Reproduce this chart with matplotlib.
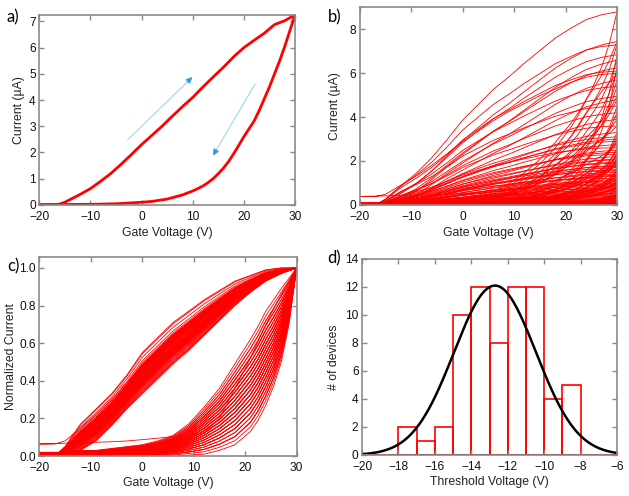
import numpy as np
import matplotlib
matplotlib.use("Agg")
import matplotlib.pyplot as plt

plt.rcParams['font.family'] = ['Liberation Sans', 'DejaVu Sans']

# ---- panel a: single device hysteresis loop ----
a_up_v = [-20, -17, -16, -15, -14, -13, -12, -10, -8, -6, -4, -2, 0, 2, 4, 6, 8, 10, 12, 14, 16, 18, 20,
          22, 24, 26, 28, 30]
a_up_i = [0, 0, 0.03, 0.1, 0.2, 0.3, 0.4, 0.62, 0.9, 1.2, 1.55, 1.92, 2.3, 2.65, 3.0, 3.38, 3.75, 4.1, 4.5,
          4.88, 5.25, 5.65, 6.0, 6.28, 6.55, 6.88, 7.03, 7.25]
a_dn_v = [30, 29, 28, 27, 26, 25, 24, 23, 22, 21, 20, 19, 18, 17, 16, 15, 14, 13, 12, 11, 10, 8, 5, 2, 0,
          -5, -10, -20]
a_dn_i = [7.25, 6.65, 6.05, 5.5, 5.0, 4.5, 4.05, 3.6, 3.2, 2.9, 2.6, 2.27, 1.95, 1.65, 1.4, 1.19, 1.0, 0.85,
          0.72, 0.62, 0.53, 0.38, 0.22, 0.13, 0.1, 0.04, 0.02, 0.01]

# ---- panels b/c: all devices, normalized sweep envelopes ----
v_grid = [-20, -17, -15, -12, -9, -6, -3, 0, 3, 6, 9, 12, 15, 18, 21, 22.5, 24, 25.5, 27, 28.5, 30]
up_hi = [0, 0.0, 0.05, 0.17, 0.25, 0.33, 0.43, 0.55, 0.63, 0.71, 0.77, 0.83, 0.88, 0.93, 0.96, 0.975, 0.99,
         0.995, 1.0, 1.0, 1.0]
up_lo = [0, 0.0, 0.01, 0.03, 0.08, 0.16, 0.25, 0.33, 0.41, 0.49, 0.56, 0.64, 0.72, 0.80, 0.87, 0.90, 0.93,
         0.95, 0.97, 0.985, 1.0]
dn_hi = [0.02, 0.02, 0.02, 0.03, 0.03, 0.04, 0.05, 0.06, 0.08, 0.11, 0.17, 0.26, 0.36, 0.49, 0.62, 0.69, 0.77,
         0.83, 0.89, 0.945, 1.0]
dn_lo = [0, 0, 0, 0, 0, 0, 0, 0, 0, 0, 0.005, 0.01, 0.03, 0.06, 0.13, 0.19, 0.27, 0.37, 0.50, 0.70, 1.0]

# device with a leakage offset
spec_imax = 6.0
spec_up = [0.064, 0.064, 0.08, 0.15, 0.22, 0.30, 0.39, 0.48, 0.56, 0.64, 0.71, 0.77, 0.83, 0.88, 0.93, 0.95,
           0.97, 0.98, 0.99, 0.995, 1.0]
spec_dn = [0.064, 0.066, 0.068, 0.071, 0.073, 0.076, 0.08, 0.087, 0.095, 0.103, 0.112, 0.124, 0.2, 0.36, 0.52,
           0.61, 0.7, 0.78, 0.86, 0.93, 1.0]

# threshold voltage per device (V)
vt = [-17.6, -17.3, -16.5, -15.7, -15.2,
      -14.9, -14.8, -14.7, -14.6, -14.5, -14.4, -14.3, -14.2, -14.1, -14.05,
      -13.95, -13.9, -13.8, -13.7, -13.6, -13.5, -13.45, -13.4, -13.3, -13.2, -13.1, -13.05,
      -12.9, -12.8, -12.7, -12.5, -12.4, -12.3, -12.2, -12.1,
      -11.95, -11.9, -11.8, -11.7, -11.6, -11.5, -11.45, -11.4, -11.3, -11.2, -11.1, -11.05,
      -10.95, -10.9, -10.8, -10.7, -10.6, -10.5, -10.4, -10.3, -10.2, -10.15, -10.1, -10.05,
      -9.8, -9.6, -9.4, -9.2,
      -8.9, -8.7, -8.5, -8.3, -8.1]
# current at +30 V per device (uA)
imax = [1.2, 0.35, 2.6, 0.08, 4.5,
        0.9, 6.1, 1.55, 0.2, 2.3, 0.65, 3.6, 1.05, 0.45, 7.3,
        0.14, 2.05, 1.75, 5.4, 0.6, 0.98, 3.1, 0.27, 1.4, 2.9, 0.05, 1.9,
        0.75, 8.8, 0.42, 1.3, 2.4, 0.11, 4.2, 1.6,
        0.55, 3.0, 1.15, 6.85, 0.24, 2.75, 0.85, 1.95, 0.03, 4.95, 1.7, 0.5,
        2.2, 0.17, 7.45, 1.1, 0.7, 3.3, 0.38, 1.8, 6.25, 0.95, 2.5, 0.02,
        1.5, 3.9, 0.8, 1.35,
        6.6, 0.3, 2.1, 5.7, 4.8]
# position of the reverse sweep inside its band (0 = left edge, 1 = right edge)
wr = [0.55, 0.2, 0.8, 0.35, 0.65, 0.1, 0.45, 0.9, 0.3, 0.7, 0.5, 0.15, 0.6, 0.85, 0.4,
      0.25, 0.75, 0.05, 0.55, 0.95, 0.35, 0.6, 0.2, 0.8, 0.45, 0.7, 0.3,
      0.5, 0.45, 0.65, 0.4, 0.9, 0.25, 0.55, 0.75,
      0.1, 0.6, 0.35, 0.8, 0.5, 0.2, 0.7, 0.45, 1.0, 0.3, 0.6, 0.85,
      0.4, 0.55, 0.25, 0.65, 0.15, 0.75, 0.5, 0.35, 0.9, 0.45, 0.6, 0.0,
      0.7, 0.3, 0.5, 0.8,
      0.4, 0.2, 0.65, 0.55, 0.35]

# ---- panel d: gaussian fit of threshold voltages ----
fit_amp, fit_mu, fit_sigma = 12.1, -12.7, 2.25
hist_bins = np.arange(-18, -7, 1)

RED = '#ff0000'
GREY = '#8a8a8a'
TICK_FS = 8.6
LAB_FS = 8.8

fig = plt.figure(figsize=(6.29, 4.96), dpi=100)
ax_a = fig.add_axes([0.0625, 0.587, 0.4065, 0.383])
ax_b = fig.add_axes([0.572, 0.587, 0.409, 0.398])
ax_c = fig.add_axes([0.0625, 0.0806, 0.4092, 0.402])
ax_d = fig.add_axes([0.5755, 0.0827, 0.4055, 0.3952])


def style(ax):
    for s in ax.spines.values():
        s.set_color(GREY)
        s.set_linewidth(1.2)
    ax.tick_params(direction='in', top=True, right=True, color=GREY, length=3.5, width=1,
                   labelsize=TICK_FS, labelcolor='#111111')
    ax.tick_params(axis='x', pad=4.5)
    ax.tick_params(axis='y', pad=2.5)


# a
ax_a.plot(a_up_v, a_up_i, color=RED, lw=2)
ax_a.plot(a_dn_v, a_dn_i, color=RED, lw=2)
for (x0, y0, x1, y1) in [(-2.7, 2.49, 9.9, 4.87), (22.2, 4.62, 14.0, 1.89)]:
    ax_a.annotate('', xy=(x1, y1), xytext=(x0, y0),
                  arrowprops=dict(arrowstyle='-|>', color='#a9d9f2', lw=0.9,
                                  mutation_scale=9, shrinkA=0, shrinkB=0))
    ax_a.annotate('', xy=(x1, y1), xytext=(x1 - (x1 - x0) * 0.08, y1 - (y1 - y0) * 0.08),
                  arrowprops=dict(arrowstyle='-|>', color='#2e9bd6', lw=0.5,
                                  mutation_scale=9, shrinkA=0, shrinkB=0))
ax_a.set_xlim(-20, 30)
ax_a.set_ylim(0, 7.25)
ax_a.set_xticks([-20, -10, 0, 10, 20, 30])
ax_a.set_yticks(range(0, 8))
ax_a.set_xlabel('Gate Voltage (V)', fontsize=LAB_FS, color='#222222', labelpad=3)
ax_a.set_ylabel('Current (\u00b5A)', fontsize=LAB_FS, color='#222222', labelpad=3)
style(ax_a)

# b and c
vg = np.array(v_grid)
vt_arr = np.array(vt)
wf = (vt_arr - vt_arr.min()) / (vt_arr.max() - vt_arr.min())
for k in range(len(vt)):
    fwd = (1 - wf[k]) * np.array(up_hi) + wf[k] * np.array(up_lo)
    rev = (1 - wr[k]) * np.array(dn_hi) + wr[k] * np.array(dn_lo)
    xs = np.concatenate([vg, vg[::-1]])
    ys = np.concatenate([fwd, rev[::-1]])
    ax_b.plot(xs, ys * imax[k], color=RED, lw=0.6)
    ax_c.plot(xs, ys, color=RED, lw=0.6)
xs = np.concatenate([vg, vg[::-1]])
ys = np.concatenate([spec_up, spec_dn[::-1]])
ax_b.plot(xs, ys * spec_imax, color=RED, lw=0.6)
ax_c.plot(xs, ys, color=RED, lw=0.6)

ax_b.set_xlim(-20, 30)
ax_b.set_ylim(0, 9)
ax_b.set_xticks([-20, -10, 0, 10, 20, 30])
ax_b.set_yticks([0, 2, 4, 6, 8])
ax_b.set_xlabel('Gate Voltage (V)', fontsize=LAB_FS, color='#222222', labelpad=3)
ax_b.set_ylabel('Current (\u00b5A)', fontsize=LAB_FS, color='#222222', labelpad=6)
style(ax_b)

ax_c.set_xlim(-20, 30)
ax_c.set_ylim(0, 1.06)
ax_c.set_xticks([-20, -10, 0, 10, 20, 30])
ax_c.set_yticks([0, 0.2, 0.4, 0.6, 0.8, 1.0])
ax_c.set_yticklabels(['0.0', '0.2', '0.4', '0.6', '0.8', '1.0'])
ax_c.set_xlabel('Gate Voltage (V)', fontsize=LAB_FS, color='#222222', labelpad=2)
ax_c.set_ylabel('Normalized Current', fontsize=LAB_FS, color='#222222', labelpad=2)
style(ax_c)

# d
ax_d.hist(vt, bins=hist_bins, facecolor='none', edgecolor=RED, lw=1.2)
vx = np.linspace(-20, -6, 300)
ax_d.plot(vx, fit_amp * np.exp(-(vx - fit_mu) ** 2 / (2 * fit_sigma ** 2)), color='black', lw=1.8)
ax_d.axhline(0, color=RED, lw=1.5)
ax_d.set_xlim(-20, -6)
ax_d.set_ylim(0, 14)
ax_d.set_xticks(range(-20, -5, 2))
ax_d.set_yticks(range(0, 15, 2))
ax_d.set_xlabel('Threshold Voltage (V)', fontsize=LAB_FS, color='#222222', labelpad=2)
ax_d.set_ylabel('# of devices', fontsize=LAB_FS, color='#222222', labelpad=4)
style(ax_d)

for lab, x, y in [('a)', 0.011, 0.965), ('b)', 0.521, 0.965), ('c)', 0.011, 0.462), ('d)', 0.521, 0.48)]:
    fig.text(x, y, lab, fontsize=12, family=['Lato', 'DejaVu Sans'], va='center')

fig.savefig('out.png', dpi=100)
